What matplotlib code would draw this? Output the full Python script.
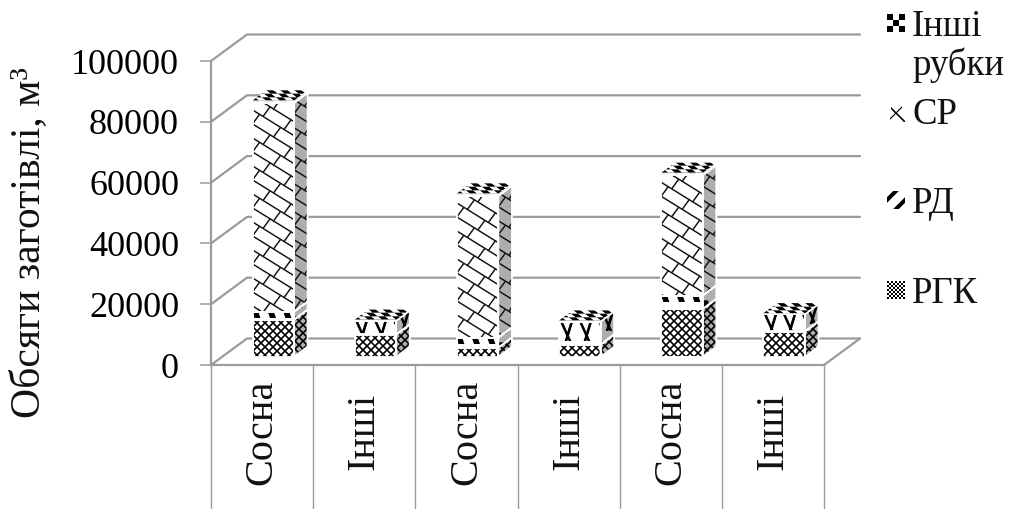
import numpy as np
import matplotlib
matplotlib.use("Agg")
import matplotlib.pyplot as plt
from matplotlib.collections import LineCollection
from matplotlib.lines import Line2D
from matplotlib.patches import Polygon
from matplotlib.transforms import IdentityTransform

plt.rcParams["font.family"] = ["Liberation Serif", "DejaVu Serif"]

# Harvest volumes, m3, one entry per column
categories = ["Сосна", "Інші", "Сосна", "Інші", "Сосна", "Інші"]
rgk = [12200, 7200, 3000, 3900, 15700, 8200]
rd = [2600, 200, 3300, 200, 4400, 200]
sr = [68700, 4470, 46600, 7500, 39600, 5600]
other = [800, 300, 800, 300, 800, 300]
y_ticks = [0, 20000, 40000, 60000, 80000, 100000]
legend_labels = ["Інші\nрубки", "СР", "РД", "РГК"]

W, H = 1009, 509
GREY = "#9b9b9b"
WALL_DX, WALL_DY = 36.0, 26.5
BAR_SHIFT_X, BAR_SHIFT_Y = 11.2, 8.2
BAR_DX, BAR_DY = 13.6, 10.2
BAR_WIDTH = 0.406

fig = plt.figure(figsize=(W / 100, H / 100), dpi=100, facecolor="white")
ax = fig.add_axes([211 / W, 1 - 365 / H, 613 / W, 304 / H])
ax.set_xlim(0, 6)
ax.set_ylim(0, 100000)
ax.set_autoscale_on(False)
ax.patch.set_visible(False)
for side in ("top", "right"):
    ax.spines[side].set_visible(False)
for side in ("left", "bottom"):
    ax.spines[side].set_color(GREY)
    ax.spines[side].set_linewidth(1.6)
ax.set_xticks([])
ax.set_yticks(y_ticks)
ax.tick_params(axis="y", length=8, width=1.1, color=GREY, pad=15, labelsize=26)


def project(x, v, dx=0.0, dy=0.0):
    """Data position to pixels, with an optional shift into the depth of the chart."""
    px, py = ax.transData.transform((x, v))
    return px + dx, py + dy


def grey_line(points, lw=1.6, z=1):
    xs, ys = zip(*points)
    ax.add_line(Line2D(xs, ys, color=GREY, lw=lw, transform=IdentityTransform(),
                       clip_on=False, zorder=z, solid_capstyle="round"))


def pattern(kind, x, y):
    """Boolean ink mask of a fill pattern at local pixel coordinates."""
    if kind == "rgk":
        return ((x + y) % 8 < 2.3) | ((x - y) % 8 < 2.3)
    if kind == "rd":
        u = (x - 0.35 * (y % 15.5)) % 15.5
        return (u < 6) & (y % 15.5 < 7)
    if kind == "sr_short":
        u = x % 19.0
        v = y % 30.0
        left = np.abs(u - (2 + 0.45 * v)) < 1.4
        right = np.abs(u - (13 - 0.3 * v)) < 1.4
        return (v < 20) & (left | right)
    if kind == "top":
        return ((np.floor(x / 7.0) + np.floor(y / 3.6)) % 2) == 0
    if kind == "icon":
        return ((np.floor(x / 6.0) + np.floor(y / 6.0)) % 2) == 0
    if kind == "rd_icon":
        u = (x + y) % 18.0
        return (u > 6) & (u < 12)
    if kind == "sr_icon":
        return (np.abs(x - y) < 1.2) & (x > 4) | (np.abs(x + y - 18) < 1.0) & (x > 3) & (x < 15)
    if kind == "rgk_icon":
        return ((np.floor(x / 2.0) + np.floor(y / 2.0)) % 2) == 0
    raise ValueError(kind)


def face_outline(verts, z, edge):
    poly = Polygon(verts, closed=True, transform=IdentityTransform(), fill=False,
                   edgecolor="white" if edge else "none", lw=1.3, zorder=z + 0.1,
                   clip_on=False, joinstyle="round")
    ax.add_patch(poly)
    return poly


def fill_face(verts, kind, paper=1.0, shear=0.0, z=3, edge=True):
    """Fill a polygon given in pixels with a pattern anchored at its upper left corner."""
    verts = np.asarray(verts, float)
    x0, y0 = np.floor(verts.min(axis=0))
    x1, y1 = np.ceil(verts.max(axis=0))
    nx, ny = max(int(x1 - x0), 1), max(int(y1 - y0), 1)
    ss = 3
    xs = (np.arange(nx * ss) + 0.5) / ss
    ys = (np.arange(ny * ss) + 0.5) / ss
    gx, gy = np.meshgrid(xs, ys)
    ink = pattern(kind, gx + shear * gy, gy).astype(float)
    ink = ink.reshape(ny, ss, nx, ss).mean(axis=(1, 3))
    img = paper * (1 - ink)
    im = ax.imshow(img, cmap="gray", vmin=0, vmax=1, origin="upper", aspect="auto",
                   extent=(x0, x0 + nx, y0, y0 + ny), transform=IdentityTransform(),
                   interpolation="nearest", zorder=z)
    poly = face_outline(verts, z, edge)
    im.set_clip_box(fig.bbox)
    im.set_clip_path(poly)


def shingle_face(verts, paper=1.0, z=4):
    """Shingle fill: long falling lines joined by short rising strokes."""
    verts = np.asarray(verts, float)
    x0, x1 = verts[:, 0].min(), verts[:, 0].max()
    y0, y1 = verts[:, 1].min(), verts[:, 1].max()
    poly = Polygon(verts, closed=True, transform=IdentityTransform(),
                   facecolor=str(paper), edgecolor="none", zorder=z)
    ax.add_patch(poly)
    slope, step, brick = 0.62, 14.0, 21.0
    segs = []
    rows = int((y1 - y0 + slope * (x1 - x0)) / step) + 2
    for k in range(rows + 1):
        y_left = y1 - 7 - step * (k - 1)
        segs.append([(x0, y_left), (x1, y_left - slope * (x1 - x0))])
        for j in range(-1, int((x1 - x0) / brick) + 2):
            xc = x0 + brick * j + (k % 2) * brick / 2
            yc = y_left - slope * (xc - x0)
            segs.append([(xc, yc), (xc + 7, yc + step - slope * 7)])
    lines = LineCollection(segs, colors="#111111", linewidths=1.05,
                           transform=IdentityTransform(), zorder=z + 0.05)
    ax.add_collection(lines, autolim=False)
    lines.set_clip_path(poly)
    face_outline(verts, z, True)


# Back wall gridlines and floor outline
for v in y_ticks:
    grey_line([project(0, v), project(0, v, WALL_DX, WALL_DY), project(6, v, WALL_DX, WALL_DY)])
grey_line([project(6, 0), project(6, 0, WALL_DX, WALL_DY)])

# Category separators under the floor
for i in range(7):
    px, py = project(i, 0)
    grey_line([(px, py), (px, py - 143)], lw=1.0)

# Stacked columns
for i, cat in enumerate(categories):
    left = i + 0.5 - BAR_WIDTH / 2
    right = i + 0.5 + BAR_WIDTH / 2
    stack = [("rgk", rgk[i]), ("rd", rd[i]), ("sr", sr[i]), ("top", other[i])]
    base = 0.0
    short = sr[i] < 15000
    for kind, value in stack:
        top_v = base + value
        a = project(left, base, BAR_SHIFT_X, BAR_SHIFT_Y)
        b = project(right, base, BAR_SHIFT_X, BAR_SHIFT_Y)
        c = project(right, top_v, BAR_SHIFT_X, BAR_SHIFT_Y)
        d = project(left, top_v, BAR_SHIFT_X, BAR_SHIFT_Y)
        side = [b, (b[0] + BAR_DX, b[1] + BAR_DY), (c[0] + BAR_DX, c[1] + BAR_DY), c]
        if kind == "sr" and not short:
            shingle_face([a, b, c, d])
            shingle_face(side, paper=0.68)
        elif kind == "sr":
            fill_face([a, b, c, d], "sr_short", z=4)
            fill_face(side, "sr_short", paper=0.68, z=4)
        elif not (kind == "rd" and short):
            fill_face([a, b, c, d], kind, z=4)
            fill_face(side, kind, paper=0.68, z=4)
        base = top_v
    cap = [d, c, (c[0] + BAR_DX, c[1] + BAR_DY), (d[0] + BAR_DX, d[1] + BAR_DY)]
    fill_face(cap, "top", shear=-BAR_DX / BAR_DY, z=5, edge=False)
    ax.text(i + 0.5, -22000, cat, rotation=90, ha="center", va="center",
            fontsize=29, color="#111111", clip_on=False)

# Axis title
fig.text(29 / W, 1 - 243 / H, "Обсяги заготівлі, м³", rotation=90, ha="center",
         va="center", fontsize=30, color="#111111")

# Legend
icons = ["icon", "sr_icon", "rd_icon", "rgk_icon"]
tops = [14, 104, 191, 281]
bases = [36, 124, 213, 303]
for label, icon, top, base in zip(legend_labels, icons, tops, bases):
    y_hi, y_lo = H - top, H - top - 18
    fill_face([(887, y_lo), (905, y_lo), (905, y_hi), (887, y_hi)], icon, z=4, edge=False)
    for k, part in enumerate(label.split("\n")):
        fig.text(912 / W, 1 - (base + 39 * k) / H, part, ha="left", va="baseline",
                 fontsize=26.5, color="#111111")

fig.savefig("out.png", dpi=100, facecolor="white")
